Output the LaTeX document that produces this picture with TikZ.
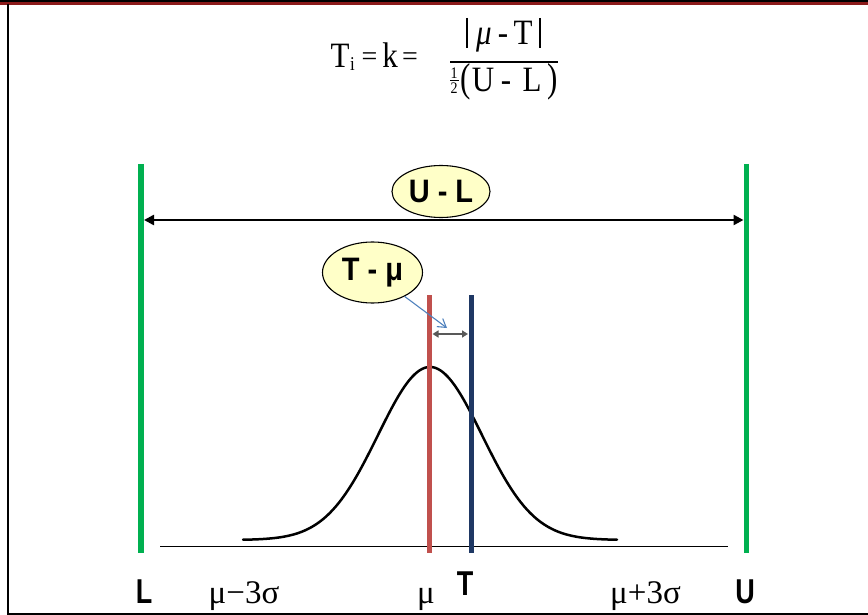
\documentclass[tikz,border=0pt]{standalone}
\usepackage{fontspec}
\usepackage{graphicx}
\setmainfont{Liberation Serif}
\setsansfont{Liberation Sans}
\usetikzlibrary{shapes.geometric,arrows.meta}
\definecolor{limitgreen}{HTML}{00B050}
\definecolor{meanred}{HTML}{C0504D}
\definecolor{targetblue}{HTML}{1F3864}
\definecolor{bubbleyellow}{HTML}{FFFFC8}
\definecolor{pointerblue}{HTML}{4F81BD}
\definecolor{bandred}{HTML}{8B1A1A}
\definecolor{gapgray}{HTML}{595959}
\newcommand{\tallf}[1]{\scalebox{1}[1.15]{#1}}
\tikzset{
  bubble/.style={ellipse, draw=black, line width=1.1pt, fill=bubbleyellow, inner sep=0pt},
  sanslbl/.style={font=\fontsize{30}{32}\selectfont\sffamily\bfseries, inner sep=0pt},
  seriflbl/.style={font=\fontsize{33}{35}\selectfont, inner sep=0pt},
  formtext/.style={font=\fontsize{31}{33}\selectfont, inner sep=0pt},
  eqtext/.style={font=\fontsize{28}{30}\selectfont, inner sep=0pt},
  halftext/.style={font=\fontsize{14}{14}\selectfont, inner sep=0pt},
  limitline/.style={limitgreen, line width=5.5pt},
  meanline/.style={meanred, line width=5pt},
  targetline/.style={targetblue, line width=5pt},
}
\begin{document}
\begin{tikzpicture}[x=1pt,y=-1pt]
\useasboundingbox (0,0) rectangle (868,615);
% frame
\fill[bandred] (0,0) rectangle (868,5);
\fill[black] (0,0) rectangle (868,2);
\draw[black, line width=2pt] (7.5,4) -- (7.5,613.5) -- (868,613.5);

% formula
\node[formtext, anchor=base] (Tmain) at (340,68) {\tallf{T}};
\node[font=\fontsize{17}{17}\selectfont, inner sep=0pt, anchor=base] (isub) at (352.5,71) {\tallf{i}};
\node[eqtext, anchor=base] (eq1) at (369.5,65.5) {=};
\node[formtext, anchor=base] (kk) at (390,68) {\tallf{k}};
\node[eqtext, anchor=base] (eq2) at (410,65.5) {=};
\coordinate (barL) at (450,62);
\coordinate (barR) at (558,62);
\draw[line width=1.5pt] (barL) -- (barR);
\draw[line width=1.4pt] (467,18) -- (467,48);
\draw[line width=1.4pt] (540,18) -- (540,48);
\node[formtext, anchor=base] (nmu) at (484,45) {\tallf{\textit{μ}}};
\node[formtext, anchor=base] (nminus) at (503,45) {\tallf{-}};
\node[formtext, anchor=base] (nT) at (523,45) {\tallf{T}};
\node[halftext, anchor=base] (half1) at (454,78.5) {\tallf{1}};
\draw[line width=0.8pt] (450,80.5) -- (458.5,80.5);
\node[halftext, anchor=base] (half2) at (454,94) {\tallf{2}};
\node[formtext, anchor=base] (lpar) at (466,92) {\scalebox{1}[1.3]{(}};
\node[formtext, anchor=base] (dU) at (483,92) {\tallf{U}};
\node[formtext, anchor=base] (dminus) at (506,92) {\tallf{-}};
\node[formtext, anchor=base] (dL) at (532,92) {\tallf{L}};
\node[formtext, anchor=base] (rpar) at (553,92) {\scalebox{1}[1.3]{)}};

% limits
\coordinate (Ltop) at (141,164);
\coordinate (Lbot) at (141,553);
\coordinate (Utop) at (746.5,164);
\coordinate (Ubot) at (746.5,553);
\draw[limitline] (Ltop) -- (Lbot);
\draw[limitline] (Utop) -- (Ubot);
\coordinate (Larr) at (144,220);
\coordinate (Uarr) at (743.5,220);
\draw[line width=2.4pt, {Triangle[length=10pt,width=10pt]}-{Triangle[length=10pt,width=10pt]}] (Larr) -- (Uarr);

% baseline
\coordinate (baseL) at (160,546);
\coordinate (baseR) at (728,546);
\draw[line width=0.9pt] (baseL) -- (baseR);

% bell curve
\draw[line width=2.5pt, line cap=round] plot[domain=243:617, samples=160, smooth] (\x, {540 - 173*exp(-0.5*((\x-430)/52)^2)});

% mean and target
\coordinate (Mtop) at (429.5,295);
\coordinate (Mbot) at (429.5,553);
\coordinate (Ttop) at (471,295);
\coordinate (Tbot) at (471,553);
\draw[meanline] (Mtop) -- (Mbot);
\draw[targetline] (Ttop) -- (Tbot);
\coordinate (gapL) at (432.5,334);
\coordinate (gapR) at (468,334);
\draw[gapgray, line width=2.6pt, {Triangle[length=6pt,width=7pt]}-{Triangle[length=6pt,width=7pt]}] (gapL) -- (gapR);

% bubbles
\node[bubble, minimum width=98pt, minimum height=52pt] (ul) at (441,191.5) {\sffamily\bfseries\fontsize{29}{31}\selectfont\scalebox{1}[1.12]{U - L}};
\node[bubble, minimum width=100pt, minimum height=61pt] (tmu) at (372.5,272.5) {\sffamily\bfseries\fontsize{29}{31}\selectfont\scalebox{1}[1.12]{T - μ}};
\coordinate (ptip) at (447,328);
\draw[pointerblue, line width=1.1pt, -{Straight Barb[length=8pt,width=10pt]}] (tmu) -- (ptip);

% axis labels
\node[sanslbl, anchor=base] (Llab) at (144,603) {\scalebox{0.9}[1.15]{L}};
\node[sanslbl, anchor=base] (Ulab) at (745,603) {\scalebox{0.9}[1.15]{U}};
\node[sanslbl, anchor=base] (Tlab) at (465,595) {\scalebox{0.9}[1.15]{T}};
\node[seriflbl, anchor=base] (mlo) at (244,603) {μ−3σ};
\node[seriflbl, anchor=base] (mu) at (426,603) {μ};
\node[seriflbl, anchor=base] (mhi) at (645.5,603) {μ+3σ};
\end{tikzpicture}
\end{document}
